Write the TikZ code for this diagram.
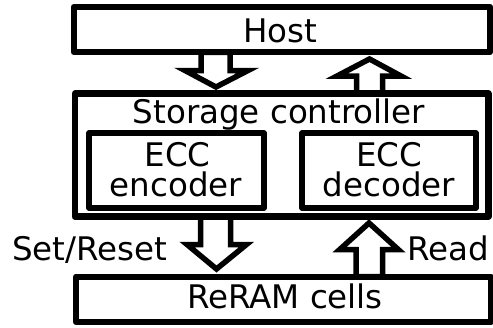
\documentclass[tikz,border=0pt]{standalone}
\usepackage{fontspec}
\setmainfont{DejaVu Sans}
\begin{document}
\begin{tikzpicture}[x=1pt,y=-1pt,
  box/.style={draw, line width=6pt, line join=round, inner sep=0pt, outer sep=0pt},
  inbox/.style={box, line width=5.5pt},
  blk/.style={draw, line width=5.5pt, fill=white, line join=miter},
  txt/.style={font=\fontsize{32.5}{35}\selectfont, inner sep=0pt, anchor=base}]
\useasboundingbox (0,0) rectangle (493,327);
% block arrows (drawn first, boxes on top)
\draw[blk] (201,52.3) -- (201,70.5) -- (185,70.5) -- (216,87) -- (248,70.5) -- (230,70.5) -- (230,52.3) -- cycle;
\draw[blk] (356.5,93.7) -- (356.5,76) -- (337,76) -- (369.5,59) -- (401,76) -- (382.7,76) -- (382.7,93.7) -- cycle;
\draw[blk] (200.5,216.7) -- (200.5,244.5) -- (187,244.5) -- (216.5,269) -- (246.5,244.5) -- (230.5,244.5) -- (230.5,216.7) -- cycle;
\draw[blk] (356,276.5) -- (356,249.7) -- (339.5,249.7) -- (369,223) -- (398.5,249.7) -- (382.7,249.7) -- (382.7,276.5) -- cycle;
% boxes
\node[box, minimum width=416.3pt, minimum height=45.6pt] (host) at (281.85,29.5) {};
\node[box, line width=6.5pt, minimum width=413.3pt, minimum height=123pt] (ctrl) at (281.65,155.2) {};
\node[inbox, minimum width=175pt, minimum height=75pt] (enc) at (176.5,170.5) {};
\node[inbox, minimum width=174pt, minimum height=75pt] (dec) at (389,170.5) {};
\node[box, minimum width=414.8pt, minimum height=45.5pt] (reram) at (283.4,299.25) {};
% texts
\node[txt] (thost) at (280,42.5) {Host};
\node[txt] (tctrl) at (279,123) {Storage controller};
\node[txt] (tecc1) at (177.5,166.5) {ECC};
\node[txt] (tenc) at (176,196.7) {encoder};
\node[txt] (tecc2) at (389,166.5) {ECC};
\node[txt] (tdec) at (389,196.7) {decoder};
\node[txt, anchor=base west] (tset) at (12,260) {Set/Reset};
\node[txt, anchor=base west] (tread) at (407,260) {Read};
\node[txt] (treram) at (285,308) {ReRAM cells};
\end{tikzpicture}
\end{document}
